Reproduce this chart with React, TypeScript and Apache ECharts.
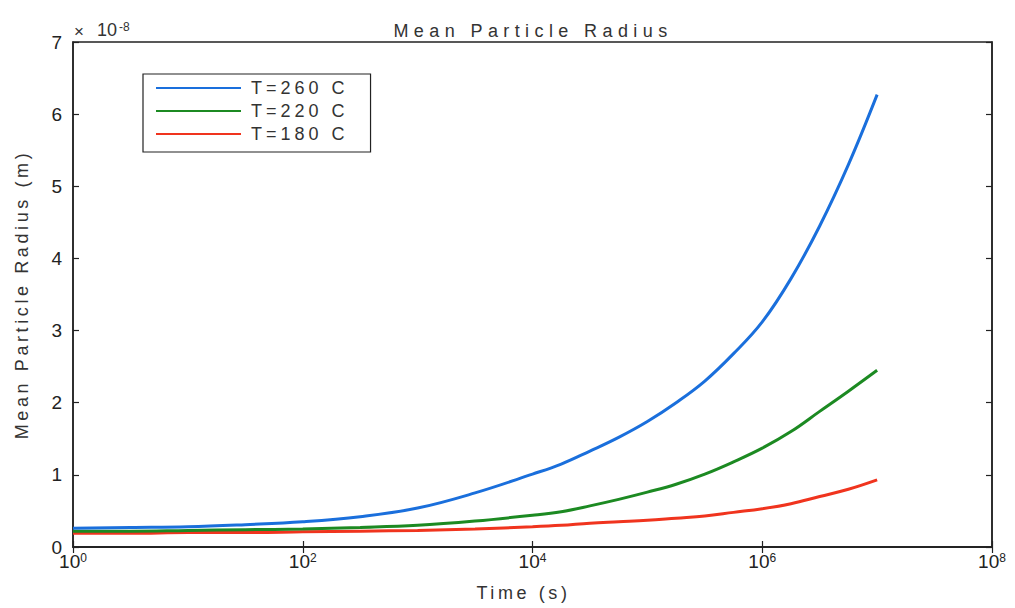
import React, { useEffect, useRef } from "react";
import * as echarts from "echarts";

// Time samples (s): half-decade steps up to 1e4, quarter-decade steps after
const TIME_S = [
  1, 3.16, 10, 31.6, 100, 316, 1000, 3162, 10000, 17783, 31623, 56234, 100000, 177828, 316228, 562341, 1000000,
  1778279, 3162278, 5623413, 10000000,
];
// Mean particle radius, in units of 1e-8 m
const R_260 = [
  0.26, 0.27, 0.28, 0.31, 0.35, 0.42, 0.54, 0.75, 1.01, 1.15, 1.33, 1.52, 1.74, 2.0, 2.3, 2.68, 3.12, 3.72, 4.45, 5.3,
  6.27,
];
const R_220 = [
  0.22, 0.22, 0.23, 0.24, 0.25, 0.27, 0.3, 0.36, 0.44, 0.49, 0.57, 0.66, 0.76, 0.87, 1.01, 1.18, 1.37, 1.6, 1.88, 2.16,
  2.45,
];
const R_180 = [
  0.19, 0.19, 0.2, 0.2, 0.21, 0.22, 0.23, 0.25, 0.28, 0.3, 0.33, 0.35, 0.37, 0.4, 0.43, 0.48, 0.53, 0.6, 0.7, 0.8, 0.93,
];
const SERIES_NAMES = ["T=260 C", "T=220 C", "T=180 C"];
const SERIES_COLORS = ["#1a6fdc", "#1c8a22", "#f0341e"];
const X_TICKS = [1, 100, 10000, 1000000, 100000000];
const Y_TICKS_MIN = 0;
const Y_TICKS_MAX = 7;
const Y_STEP = 1;
const TITLE = "Mean Particle Radius";
const Y_NAME = "Mean Particle Radius (m)";
const X_NAME = "Time (s)";
const MULT_SIGN = "×";
const MULT_BASE = "10";
const MULT_EXP = "-8";

const FONT = '"Liberation Sans", Arial, Helvetica, sans-serif';
const INK = "#222";

const SPACING: Record<string, number> = {
  [TITLE]: 5.4,
  [Y_NAME]: 3.6,
  [X_NAME]: 3.6,
  [SERIES_NAMES[0]]: 4,
  [SERIES_NAMES[1]]: 4,
  [SERIES_NAMES[2]]: 4,
};

export default function App() {
  const ref = useRef<HTMLDivElement>(null);
  useEffect(() => {
    if (!ref.current) return;
    const chart = echarts.init(ref.current, undefined, { renderer: "svg" });
    const applySpacing = () => {
      const root = ref.current;
      if (!root) return;
      root.querySelectorAll("text").forEach((t) => {
        const s = SPACING[(t.textContent || "").trim()];
        if (s != null) t.setAttribute("letter-spacing", String(s));
      });
    };
    const tickLine = { color: INK, width: 1.2 };
    const xAxisBase = {
      type: "log",
      logBase: 10,
      min: 1,
      max: 100000000,
      splitLine: { show: false },
      minorTick: { show: false },
      axisLine: { show: true, lineStyle: { color: INK, width: 1.5 } },
      axisTick: { show: true, inside: true, length: 6, customValues: X_TICKS, lineStyle: tickLine },
    };
    const yAxisBase = {
      type: "value",
      min: Y_TICKS_MIN,
      max: Y_TICKS_MAX,
      interval: Y_STEP,
      splitLine: { show: false },
      axisLine: { show: true, lineStyle: { color: INK, width: 1.5 } },
      axisTick: { show: true, inside: true, length: 6, lineStyle: tickLine },
    };
    const series = [R_260, R_220, R_180].map((vals, i) => ({
      type: "line",
      name: SERIES_NAMES[i],
      data: TIME_S.map((t, j) => [t, vals[j]]),
      smooth: 0.4,
      symbol: "none",
      showSymbol: false,
      lineStyle: { color: SERIES_COLORS[i], width: 3 },
      itemStyle: { color: SERIES_COLORS[i] },
      xAxisIndex: 0,
      yAxisIndex: 0,
      z: 3 - i,
    }));
    chart.setOption({
      animation: false,
      backgroundColor: "#fff",
      textStyle: { fontFamily: FONT },
      title: {
        text: TITLE,
        left: 528,
        top: 17,
        textAlign: "center",
        textStyle: { fontFamily: FONT, fontSize: 18, fontWeight: "normal", color: "#333" },
      },
      grid: { left: 73, right: 23, top: 42, bottom: 61, show: true, borderColor: INK, borderWidth: 1.5, backgroundColor: "#fff" },
      legend: {
        data: SERIES_NAMES,
        orient: "vertical",
        left: 143,
        top: 74,
        padding: [5, 50, 9, 12],
        itemGap: 5,
        itemWidth: 85,
        itemHeight: 14,
        selectedMode: false,
        borderColor: INK,
        borderWidth: 1.2,
        backgroundColor: "#fff",
        itemStyle: { opacity: 0 },
        textStyle: { fontFamily: FONT, fontSize: 18, color: "#333", lineHeight: 18, padding: [0, 0, 0, 5] },
      },
      xAxis: [
        {
          ...xAxisBase,
          position: "bottom",
          axisLabel: {
            show: true,
            customValues: X_TICKS,
            margin: 5,
            color: INK,
            formatter: (v: number) => `{b|10}{s|${Math.round(Math.log10(v))}}`,
            rich: {
              b: { fontFamily: FONT, fontSize: 19, lineHeight: 19, padding: [5, 0, 0, 0], color: INK, verticalAlign: "bottom" },
              s: { fontFamily: FONT, fontSize: 12, lineHeight: 12, color: INK, verticalAlign: "top" },
            },
          },
          name: X_NAME,
          nameLocation: "middle",
          nameGap: 37,
          nameTextStyle: { fontFamily: FONT, fontSize: 18, color: "#333", padding: [0, 18, 0, 0] },
        },
        { ...xAxisBase, position: "top", axisLabel: { show: false } },
      ],
      yAxis: [
        {
          ...yAxisBase,
          position: "left",
          axisLabel: { show: true, margin: 11, fontFamily: FONT, fontSize: 19, lineHeight: 10, color: INK },
          name: Y_NAME,
          nameLocation: "middle",
          nameGap: 42,
          nameTextStyle: { fontFamily: FONT, fontSize: 18, color: "#333" },
        },
        { ...yAxisBase, position: "right", axisLabel: { show: false } },
      ],
      graphic: [
        {
          type: "text",
          left: 74,
          top: 23,
          style: { text: MULT_SIGN, fontFamily: FONT, fontSize: 17, fill: "#333" },
        },
        {
          type: "text",
          left: 97,
          top: 14,
          style: {
            text: `{a|${MULT_BASE}}{s|${MULT_EXP}}`,
            rich: {
              a: { fontFamily: FONT, fontSize: 18, lineHeight: 18, padding: [7, 2, 0, 0], fill: "#333", verticalAlign: "bottom" },
              s: { fontFamily: FONT, fontSize: 12, lineHeight: 14, fill: "#333", verticalAlign: "top" },
            },
          },
        },
      ],
      series,
    });
    chart.on("finished", applySpacing);
    applySpacing();
    const raf = requestAnimationFrame(applySpacing);
    return () => {
      cancelAnimationFrame(raf);
      chart.dispose();
    };
  }, []);
  return <div ref={ref} style={{ position: "fixed", left: 0, top: 0, width: 1015, height: 608 }} />;
}
